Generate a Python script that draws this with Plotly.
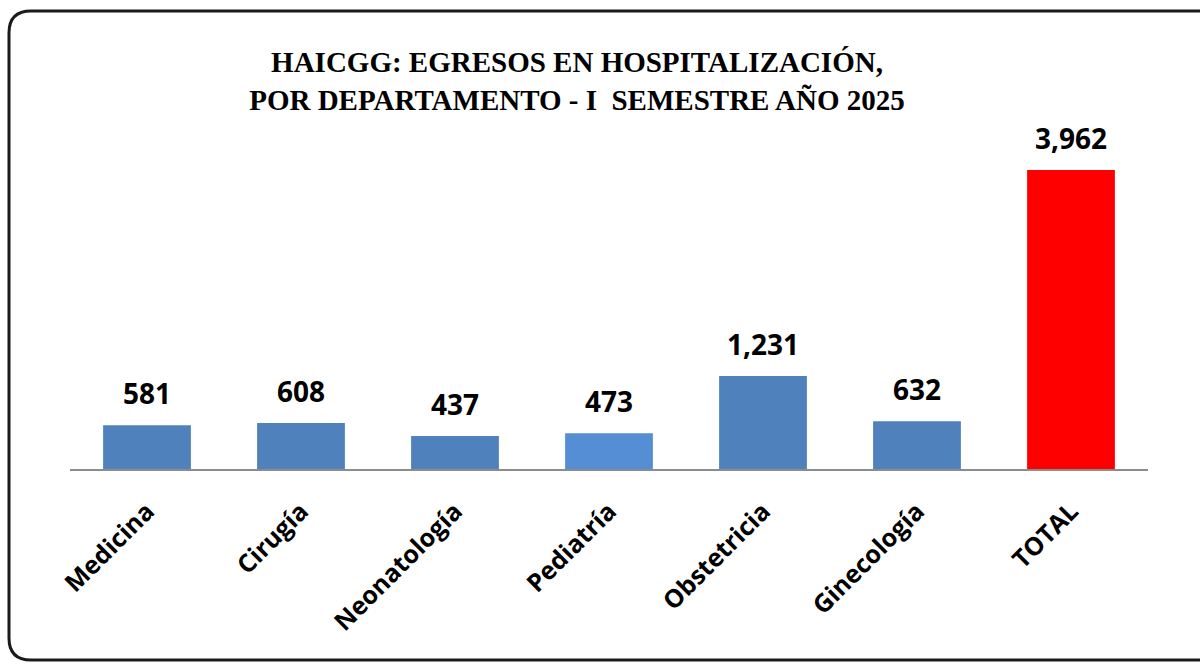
import plotly.graph_objects as go

categories = ["Medicina", "Cirugía", "Neonatología", "Pediatría", "Obstetricia", "Ginecología", "TOTAL"]
values = [581, 608, 437, 473, 1231, 632, 3962]
bar_colors = ["#4F81BD", "#4F81BD", "#4F81BD", "#558ED5", "#4F81BD", "#4F81BD", "#FF0000"]
value_labels = ["581", "608", "437", "473", "1,231", "632", "3,962"]
title_lines = ["HAICGG: EGRESOS EN HOSPITALIZACIÓN,", "POR DEPARTAMENTO - I\u00a0 SEMESTRE AÑO 2025"]

W, H = 1200, 664
ML, MR, MT, MB = 70, 52, 100, 195
PW, PH = W - ML - MR, H - MT - MB

def px(xp, yp):
    return (xp - ML) / PW, (H - MB - yp) / PH

fig = go.Figure()
fig.add_trace(go.Bar(
    x=categories, y=values, marker=dict(color=bar_colors, line=dict(width=0)),
    hoverinfo="x+y", showlegend=False,
))

for c, v, t in zip(categories, values, value_labels):
    fig.add_annotation(x=c, y=v, text=t, showarrow=False, yanchor="bottom", yshift=11,
                       font=dict(family="Open Sans", size=28, color="#000000", weight="bold"))

# rounded outer frame
L, T, R, B, r = 9, 11, 1230, 660, 22
def P(x, y):
    a, b = px(x, y)
    return f"{a:.5f},{b:.5f}"
path = (f"M {P(L + r, T)} L {P(R - r, T)} Q {P(R, T)} {P(R, T + r)} "
        f"L {P(R, B - r)} Q {P(R, B)} {P(R - r, B)} L {P(L + r, B)} "
        f"Q {P(L, B)} {P(L, B - r)} L {P(L, T + r)} Q {P(L, T)} {P(L + r, T)} Z")
fig.add_shape(type="path", path=path, xref="paper", yref="paper",
              line=dict(color="#1a1a1a", width=3), layer="below")

fig.update_layout(
    width=W, height=H,
    margin=dict(l=ML, r=MR, t=MT, b=MB),
    paper_bgcolor="white", plot_bgcolor="white",
    bargap=0.43,
    title=dict(text="<br>".join(title_lines), x=577 / W, xanchor="center", y=1 - 80 / H, yanchor="middle",
               font=dict(family="Liberation Serif", size=29, color="#000000", weight="bold")),
    xaxis=dict(showline=True, linecolor="#8C8C8C", linewidth=1.5, ticks="", tickangle=-45,
               tickfont=dict(family="Open Sans", size=25, color="#000000", weight="bold"),
               showgrid=False, ticklabelstandoff=16),
    yaxis=dict(visible=False, range=[0, PH / (299 / 3962)], showgrid=False, zeroline=False),
)
fig.update_layout(title_y=1 - 72 / H)

fig.write_html("out.html", config={"displayModeBar": False},
               post_script="document.body.style.margin='0';")
